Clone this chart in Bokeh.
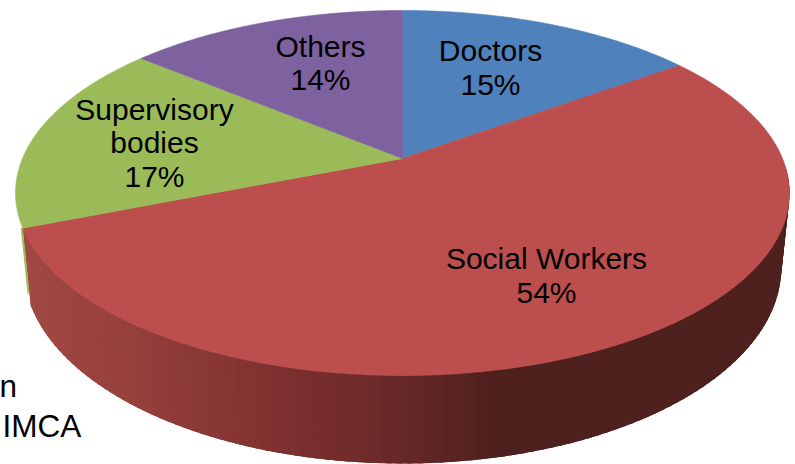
import numpy as np
from bokeh.core.properties import value
from bokeh.embed import file_html
from bokeh.models import ColumnDataSource, Range1d
from bokeh.plotting import figure
from bokeh.resources import INLINE

# Share of respondents, clockwise from twelve o'clock
categories = ["Doctors", "Social Workers", "Supervisory bodies", "Others"]
shares = [15, 54, 17, 14]
colors = ["#4f81bd", "#bc4f4d", "#9bbb59", "#7e619f"]

W, H = 795, 464
FONT = value("Liberation Sans")

# Perspective projection of the tilted disc: u to the right, v away from the viewer
CX = 402
TILT = 0.189
TOP_DISC = dict(a=380, b=176, y0=158)
BASE_DISC = dict(a=372, b=189, y0=230)


def project(angle_deg, disc, radius=1.0):
    t = np.radians(np.asarray(angle_deg, dtype=float))
    u, v = radius * np.sin(t), radius * np.cos(t)
    d = 1 + TILT * v
    return CX + disc["a"] * u / d, disc["y0"] - disc["b"] * v / d


def wall_color(x):
    stops_x = [30, 130, 300, 400, 500, 800]
    r = np.interp(x, stops_x, [160, 150, 122, 104, 78, 78])
    g = np.interp(x, stops_x, [72, 64, 47, 41, 32, 32])
    b = np.interp(x, stops_x, [66, 60, 46, 40, 30, 30])
    return f"#{int(r):02x}{int(g):02x}{int(b):02x}"


p = figure(
    width=W, height=H, output_backend="svg", toolbar_location=None,
    x_range=Range1d(0, W), y_range=Range1d(H, 0), min_border=0,
    outline_line_color=None, background_fill_color="white",
)
p.axis.visible = False
p.grid.visible = False

edges = np.cumsum([0] + shares) * 3.6

# Outer wall of the Social Workers slice: overlapping strips, so no seams show
wall_start = max(edges[1], 92.0)
steps = np.linspace(wall_start, edges[2], 120)
step = steps[1] - steps[0]
wx, wy, wc = [], [], []
for a0 in steps[:-1]:
    a1 = min(a0 + 2.5 * step, edges[2])
    tx, ty = project([a0, a1], TOP_DISC)
    bx, by = project([a0, a1], BASE_DISC)
    wx.append([tx[0], tx[1], bx[1], bx[0]])
    wy.append([ty[0], ty[1], by[1], by[0]])
    mid_x, _ = project([a0 + step / 2], TOP_DISC)
    wc.append(wall_color(mid_x[0]))
p.patches(wx, wy, fill_color=wc, line_color=None)

# Sliver of the green slice's wall along the left edge
ex0, ey0 = project([edges[2]], TOP_DISC)
ex1, ey1 = project([edges[2]], BASE_DISC)
p.line([ex0[0] - 1, ex0[0] + 0.85 * (ex1[0] - ex0[0]) - 1],
       [ey0[0], ey0[0] + 0.85 * (ey1[0] - ey0[0])],
       line_color=colors[2], line_width=2)

# Top faces of the slices
for start, end, color in zip(edges[:-1], edges[1:], colors):
    arc = np.linspace(start, end, 160)
    ax, ay = project(arc, TOP_DISC)
    cx0, cy0 = project([0], TOP_DISC, radius=0.0)
    p.patch(np.r_[cx0, ax], np.r_[cy0, ay], fill_color=color,
            line_color=color, line_width=0.6)

# Slice labels, one line per row
rows = [
    (categories[0], 490, 50), (f"{shares[0]}%", 490, 84),
    (categories[1], 546, 258), (f"{shares[1]}%", 546, 292),
    ("Supervisory", 154, 109), ("bodies", 154, 142), (f"{shares[2]}%", 154, 176),
    (categories[3], 320, 46), (f"{shares[3]}%", 320, 79),
]
src = ColumnDataSource(dict(
    t=[r[0] for r in rows], x=[r[1] for r in rows], y=[r[2] for r in rows]))
p.text("x", "y", text="t", source=src, text_font=FONT, text_font_size="30px",
       text_color="#000000", text_align="center", text_baseline="middle")

# Remains of the caption at the lower left
cap = ColumnDataSource(dict(t=["n", "IMCA"], x=[-1, 2], y=[385, 425]))
p.text("x", "y", text="t", source=cap, text_font=FONT, text_font_size="31.5px",
       text_color="#000000", text_align="left", text_baseline="middle")

open("out.html", "w").write(file_html(p, INLINE))
